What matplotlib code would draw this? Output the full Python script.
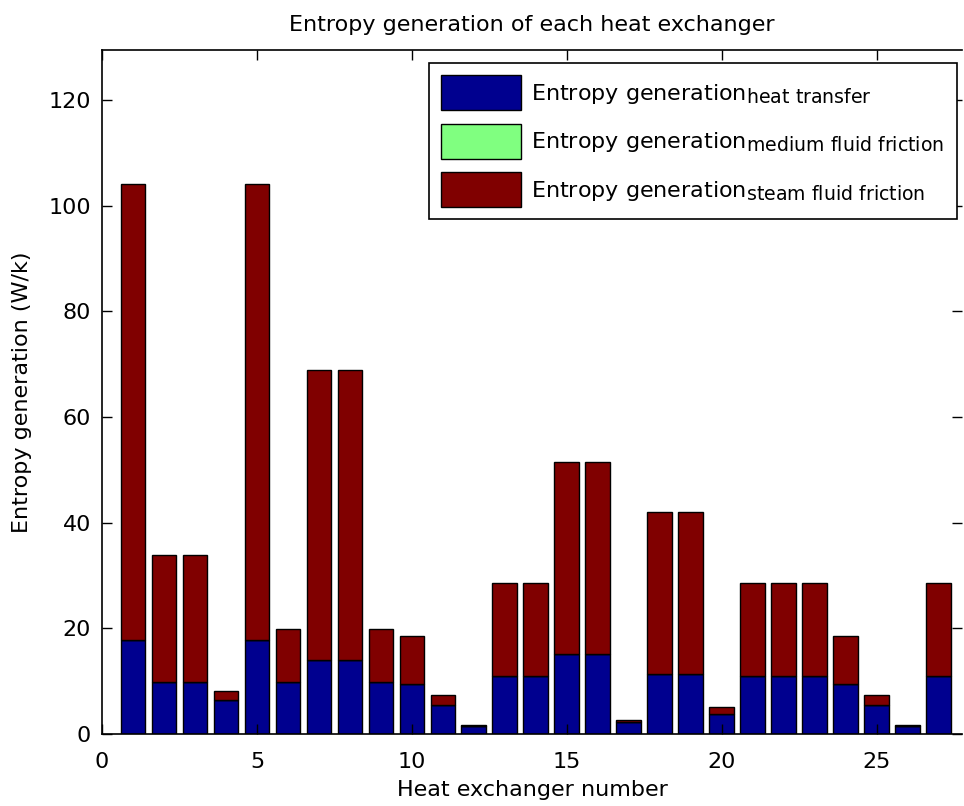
import numpy as np
import matplotlib.pyplot as plt
import matplotlib._mathtext as mathtext_internal

plt.rcParams['font.family'] = ['DejaVu Sans']
plt.rcParams['mathtext.fontset'] = 'dejavusans'
# slightly larger subscripts in the legend labels
mathtext_internal.SHRINK_FACTOR = 0.85

# entropy generation per heat exchanger (W/k)
exchanger = np.arange(1, 28)
heat_transfer = [17.8, 9.8, 9.8, 6.4, 17.8, 9.8, 14.0, 14.0, 9.8, 9.5, 5.4, 1.6, 11.0, 11.0,
                 15.1, 15.1, 2.2, 11.4, 11.4, 3.8, 11.0, 11.0, 11.0, 9.5, 5.4, 1.6, 11.0]
medium_friction = [0.0, 0.0, 0.0, 0.0, 0.0, 0.0, 0.0, 0.0, 0.0, 0.0, 0.0, 0.0, 0.0, 0.0,
                   0.0, 0.0, 0.0, 0.0, 0.0, 0.0, 0.0, 0.0, 0.0, 0.0, 0.0, 0.0, 0.0]
steam_friction = [86.4, 24.0, 24.0, 1.7, 86.4, 10.0, 55.0, 55.0, 10.0, 9.1, 1.9, 0.1, 17.5, 17.5,
                  36.4, 36.4, 0.5, 30.7, 30.7, 1.3, 17.5, 17.5, 17.5, 9.1, 1.9, 0.1, 17.5]

labels = [r'Entropy generation$_{\mathrm{heat\ transfer}}$',
          r'Entropy generation$_{\mathrm{medium\ fluid\ friction}}$',
          r'Entropy generation$_{\mathrm{steam\ fluid\ friction}}$']
colors = ['#00008f', '#80ff80', '#800000']

fig = plt.figure(figsize=(9.64, 8.06), dpi=100)
ax = fig.add_axes([102 / 964, 72 / 806, 860 / 964, 684 / 806])

bottom = np.zeros(len(exchanger))
for vals, c, lab in zip([heat_transfer, medium_friction, steam_friction], colors, labels):
    vals = np.array(vals)
    ax.bar(exchanger, vals, width=0.8, bottom=bottom, color=c, edgecolor='black',
           linewidth=1.0, label=lab)
    bottom = bottom + vals

ax.set_xlim(0, 27.75)
ax.set_ylim(0, 129.5)
ax.set_xticks(np.arange(0, 26, 5))
ax.set_yticks(np.arange(0, 121, 20))
ax.tick_params(direction='in', length=7, width=1, labelsize=16, top=True, right=True)
ax.tick_params(axis='x', pad=13)
ax.tick_params(axis='y', pad=8)
ax.spines['right'].set_visible(False)
for s in ['left', 'bottom', 'top']:
    ax.spines[s].set_linewidth(1.2)

ax.set_title('Entropy generation of each heat exchanger', fontsize=16, pad=14)
ax.set_xlabel('Heat exchanger number', fontsize=16, labelpad=6)
ax.set_ylabel('Entropy generation (W/k)', fontsize=16, labelpad=12)

leg = ax.legend(loc='upper right', bbox_to_anchor=(0.994, 0.981), fontsize=16,
                handlelength=3.6, handleheight=2.05, labelspacing=0.6,
                fancybox=False, edgecolor='black', borderaxespad=0, borderpad=0.55,
                handletextpad=0.45)
leg.get_frame().set_linewidth(1.2)
leg.get_frame().set_alpha(1)

fig.savefig('out.png', dpi=100)
